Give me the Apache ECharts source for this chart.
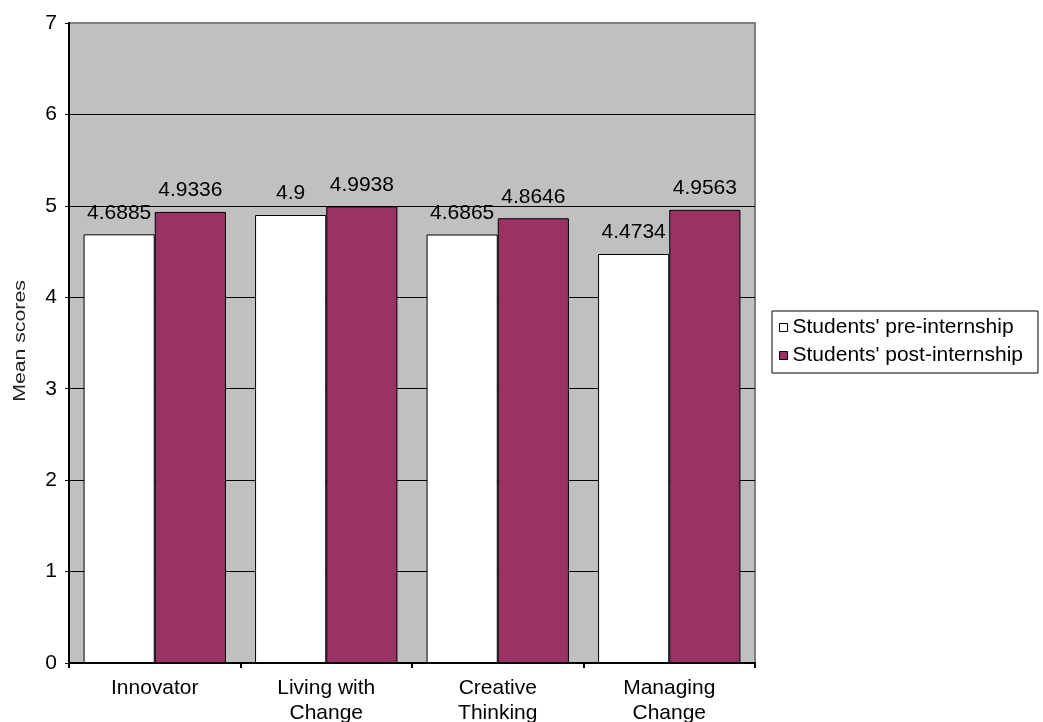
<!DOCTYPE html>
<html>
<head>
<meta charset="utf-8">
<script src="https://cdn.jsdelivr.net/npm/echarts@6/dist/echarts.min.js"></script>
<style>
html,body{margin:0;padding:0;background:#fff;}
#chart{width:1043px;height:722px;}
</style>
</head>
<body>
<div id="chart"></div>
<script>
const categories = ['Innovator', 'Living with\nChange', 'Creative\nThinking', 'Managing\nChange'];
const preInternship = [4.6885, 4.9, 4.6865, 4.4734];
const postInternship = [4.9336, 4.9938, 4.8646, 4.9563];
const seriesNames = ["Students' pre-internship", "Students' post-internship"];
const yTicks = [0, 1, 2, 3, 4, 5, 6, 7];

const FONT = 'Liberation Sans, Arial, sans-serif';
const chart = echarts.init(document.getElementById('chart'));

const labelStyle = {
  show: true,
  position: 'top',
  distance: 11,
  color: '#000',
  fontFamily: FONT,
  fontSize: 21,
  formatter: p => String(p.value)
};

chart.setOption({
  animation: false,
  backgroundColor: '#fff',
  grid: {
    left: 69, right: 288, top: 23, bottom: 59,
    outerBoundsMode: 'none',
    containLabel: false,
    show: true,
    backgroundColor: '#c0c0c0',
    borderColor: '#808080',
    borderWidth: 2
  },
  legend: {
    orient: 'vertical',
    left: 772,
    top: 311,
    padding: [6, 15, 7, 7],
    itemGap: 7,
    itemWidth: 8,
    itemHeight: 8,
    icon: 'rect',
    borderColor: '#000',
    borderWidth: 1,
    backgroundColor: '#fff',
    itemStyle: { borderColor: '#000', borderWidth: 1 },
    textStyle: { fontFamily: FONT, fontSize: 21, color: '#000', padding: [0, 0, 0, 0] },
    data: seriesNames
  },
  xAxis: {
    type: 'category',
    data: categories,
    axisLine: { lineStyle: { color: '#000', width: 2 } },
    axisTick: { show: true, length: 5, lineStyle: { color: '#000', width: 2 } },
    axisLabel: {
      color: '#000', fontFamily: FONT, fontSize: 21, lineHeight: 25, margin: 13,
      interval: 0
    }
  },
  yAxis: {
    type: 'value',
    min: yTicks[0],
    max: yTicks[yTicks.length - 1],
    interval: 1,
    axisLine: { show: true, lineStyle: { color: '#000', width: 2 } },
    axisTick: { show: true, length: 4, lineStyle: { color: '#000', width: 1 } },
    axisLabel: { color: '#000', fontFamily: FONT, fontSize: 21, margin: 12 },
    splitLine: { show: true, showMaxLine: false, lineStyle: { color: '#000', width: 1 } }
  },
  graphic: [{
    type: 'text',
    x: 20,
    y: 341,
    rotation: Math.PI / 2,
    scaleX: 1.25,
    style: {
      text: 'Mean scores',
      fontFamily: FONT,
      fontSize: 17,
      fill: '#222',
      align: 'center',
      verticalAlign: 'middle'
    }
  }],
  series: [
    {
      name: seriesNames[0],
      type: 'bar',
      data: preInternship,
      barGap: '0%',
      barCategoryGap: '17%',
      itemStyle: { color: '#ffffff', borderColor: '#000', borderWidth: 1 },
      label: labelStyle
    },
    {
      name: seriesNames[1],
      type: 'bar',
      data: postInternship,
      barGap: '0%',
      barCategoryGap: '17%',
      itemStyle: { color: '#993366', borderColor: '#000', borderWidth: 1 },
      label: labelStyle
    }
  ]
});
</script>
</body>
</html>
